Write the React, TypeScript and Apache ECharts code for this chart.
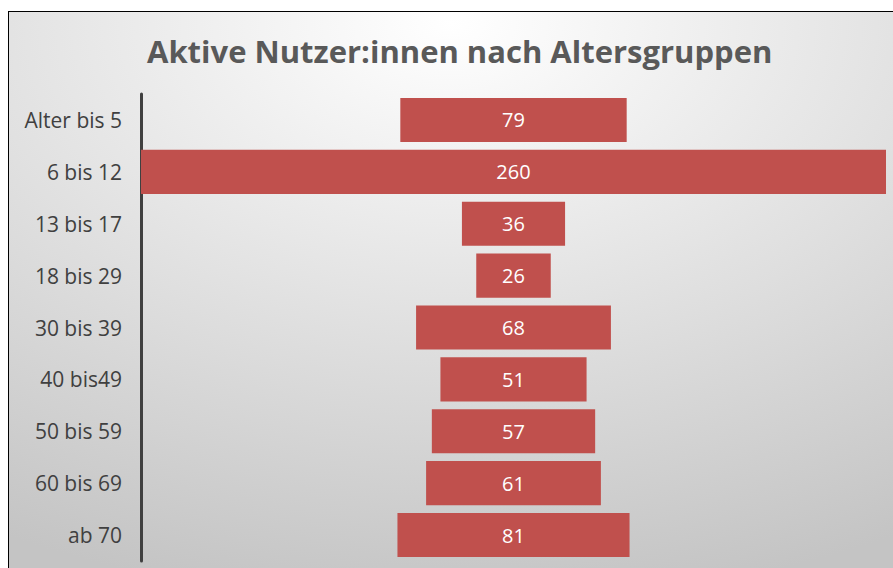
import React, { useEffect, useRef } from "react";
import * as echarts from "echarts";

const title = "Aktive Nutzer:innen nach Altersgruppen";
const categories = [
  "Alter bis 5",
  "6 bis 12",
  "13 bis 17",
  "18 bis 29",
  "30 bis 39",
  "40 bis49",
  "50 bis 59",
  "60 bis 69",
  "ab 70",
];
const values = [79, 260, 36, 26, 68, 51, 57, 61, 81];
const maxValue = 260;

export default function App() {
  const ref = useRef<HTMLDivElement>(null);
  useEffect(() => {
    if (!ref.current) return;
    const chart = echarts.init(ref.current, null, { renderer: "svg" });
    const offsets = values.map((v) => (maxValue - v) / 2);
    chart.setOption({
      animation: false,
      backgroundColor: {
        type: "radial",
        x: 0.5,
        y: 0.02,
        r: 1.05,
        colorStops: [
          { offset: 0, color: "#ffffff" },
          { offset: 1, color: "#c4c4c4" },
        ],
      },
      title: {
        text: title,
        left: 133,
        top: 18,
        textStyle: {
          fontFamily: "Open Sans",
          fontWeight: "bold",
          fontSize: 31,
          color: "#595959",
        },
      },
      grid: { left: 132, right: 7, top: 82, bottom: 7, containLabel: false },
      xAxis: {
        type: "value",
        min: 0,
        max: maxValue,
        show: false,
      },
      yAxis: {
        type: "category",
        inverse: true,
        data: categories,
        axisLine: { show: true, lineStyle: { color: "#404040", width: 3 } },
        axisTick: { show: false },
        axisLabel: {
          fontFamily: "Open Sans",
          fontSize: 21,
          color: "#404040",
          margin: 19,
        },
        splitLine: { show: false },
      },
      series: [
        {
          type: "bar",
          stack: "f",
          data: offsets,
          itemStyle: { color: "transparent" },
          barCategoryGap: "15%",
          silent: true,
        },
        {
          type: "bar",
          stack: "f",
          data: values,
          barCategoryGap: "15%",
          itemStyle: { color: "#c0504d" },
          label: {
            show: true,
            position: "inside",
            color: "#ffffff",
            fontFamily: "Open Sans",
            fontSize: 20,
          },
        },
      ],
    });
    return () => chart.dispose();
  }, []);
  return (
    <div
      ref={ref}
      style={{
        position: "absolute",
        left: 8,
        top: 11,
        width: 885,
        height: 557,
        borderLeft: "1px solid #000",
        borderTop: "1px solid #000",
        boxSizing: "border-box",
      }}
    />
  );
}
